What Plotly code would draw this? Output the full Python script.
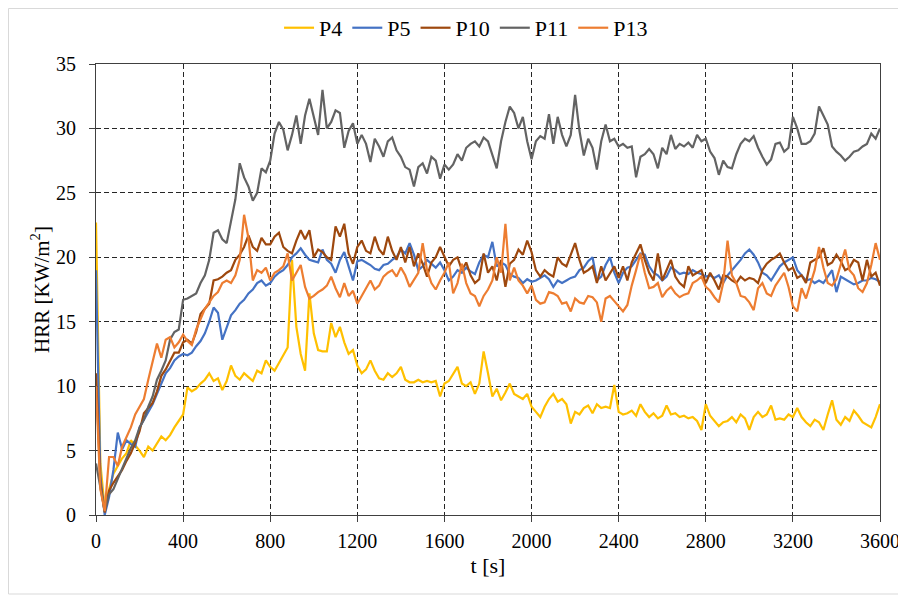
import plotly.graph_objects as go

t = list(range(0, 3601, 20))

p4 = [22.7, 4.0, 0.5, 2.0, 3.2, 3.8, 4.4, 4.8, 5.8, 5.4, 5.0, 4.5, 5.3, 5.0, 5.5, 6.1, 5.8, 6.2, 6.8, 7.3, 7.8,
      9.9, 9.6, 9.8, 10.2, 10.5, 11.0, 10.4, 10.6, 9.7, 10.4, 11.6, 10.8, 10.5, 11.0, 10.7, 10.4, 11.2, 11.0, 12.0, 11.5,
      11.2, 11.8, 12.3, 13.0, 19.8, 14.6, 12.5, 11.2, 17.2, 14.1, 12.8, 12.7, 12.7, 14.9, 13.8, 14.6, 13.4, 12.5, 12.8, 11.6,
      11.0, 11.3, 12.0, 11.2, 10.6, 10.5, 11.0, 10.7, 11.0, 11.5, 10.5, 10.3, 10.3, 10.5, 10.3, 10.4, 10.3, 10.4, 9.2, 10.2,
      10.4, 11.0, 11.5, 10.2, 10.0, 10.3, 9.4, 10.2, 12.7, 11.0, 9.2, 9.8, 8.9, 9.5, 10.2, 9.4, 9.2, 9.0, 9.4, 8.4,
      8.0, 7.6, 8.4, 9.0, 9.4, 8.8, 9.0, 8.6, 7.1, 8.0, 7.8, 8.3, 8.5, 7.9, 8.6, 8.3, 8.4, 8.3, 10.1, 8.0,
      7.8, 7.9, 8.1, 7.7, 8.6, 8.0, 7.6, 7.9, 7.5, 7.7, 8.5, 7.8, 7.9, 7.6, 7.7, 7.5, 7.6, 7.3, 6.6, 8.6,
      7.7, 7.3, 6.9, 7.2, 7.3, 7.6, 7.2, 7.8, 7.5, 6.6, 7.6, 8.0, 7.6, 7.8, 8.5, 7.4, 7.5, 7.4, 7.8, 7.6,
      8.3, 7.6, 7.2, 6.9, 7.4, 7.2, 6.6, 7.8, 8.9, 7.4, 7.0, 7.6, 7.3, 8.1, 7.7, 7.2, 7.0, 6.8, 7.6, 8.6]

p5 = [19.0, 3.0, 0.0, 1.4, 3.5, 6.4, 5.1, 5.8, 5.5, 5.3, 6.8, 7.4, 7.9, 8.6, 9.4, 10.2, 11.0, 11.4, 12.0, 12.3, 12.5,
      12.4, 12.6, 13.1, 13.5, 14.1, 15.0, 16.1, 15.7, 13.6, 14.5, 15.5, 15.9, 16.4, 16.7, 17.2, 17.5, 18.0, 18.2, 17.8, 18.0,
      18.5, 18.8, 19.0, 19.4, 20.0, 20.3, 20.7, 20.2, 19.8, 19.7, 19.6, 20.6, 19.8, 19.5, 18.8, 19.8, 20.4, 19.3, 18.2, 19.7,
      19.8, 19.6, 19.4, 19.1, 19.0, 19.4, 19.5, 19.8, 20.0, 20.6, 20.3, 21.1, 20.2, 19.0, 19.3, 19.8, 19.5, 19.2, 19.6, 19.0,
      18.2, 18.5, 19.0, 18.8, 19.2, 18.9, 18.7, 19.6, 20.2, 20.0, 21.2, 19.3, 19.6, 19.4, 18.7, 18.5, 18.4, 18.0, 18.3, 18.1,
      18.2, 18.4, 18.6, 18.3, 17.7, 18.2, 18.0, 18.2, 18.4, 18.5, 19.0, 19.2, 19.7, 20.0, 18.2, 18.5, 19.4, 20.0, 18.8, 18.0,
      18.8, 19.2, 19.3, 19.8, 20.3, 20.2, 19.3, 18.8, 18.6, 18.2, 18.5, 19.2, 19.0, 18.7, 18.8, 18.7, 19.0, 18.8, 18.7, 18.5,
      18.6, 18.4, 18.6, 18.0, 18.6, 19.0, 19.4, 19.8, 20.3, 20.6, 20.2, 19.6, 18.8, 18.6, 18.2, 18.8, 19.3, 19.6, 19.8, 20.0,
      19.0, 18.6, 18.2, 18.3, 18.0, 18.2, 18.0, 18.5, 19.0, 17.3, 18.5, 18.3, 18.1, 17.9, 18.0, 18.2, 18.2, 18.4, 18.3, 18.1]

p10 = [11.0, 2.5, 0.2, 1.9, 2.5, 3.0, 3.5, 4.2, 4.8, 5.6, 6.5, 7.9, 8.3, 8.7, 9.6, 10.8, 11.3, 12.0, 12.6, 12.6, 13.4,
       13.6, 13.3, 14.2, 15.6, 16.0, 16.4, 18.2, 18.3, 18.5, 18.8, 19.0, 19.8, 20.2, 20.8, 21.7, 20.8, 20.5, 21.5, 21.0, 21.0,
       21.6, 21.9, 20.8, 20.5, 20.3, 21.3, 22.1, 21.4, 22.1, 20.0, 20.6, 20.4, 20.0, 19.8, 22.4, 21.6, 22.6, 20.3, 19.5, 20.8,
       21.3, 20.5, 20.3, 21.6, 20.6, 20.2, 21.6, 20.5, 19.8, 20.8, 19.6, 20.8, 19.3, 20.3, 19.5, 18.5, 19.6, 20.0, 20.8, 20.0,
       19.3, 19.8, 20.0, 19.0, 19.6, 18.6, 18.0, 18.3, 20.3, 18.8, 19.3, 18.2, 19.8, 17.7, 19.5, 19.8, 20.6, 20.2, 21.3, 20.4,
       19.0, 18.5, 19.0, 18.7, 18.5, 20.0, 19.5, 19.3, 20.2, 21.1, 19.8, 18.8, 19.0, 19.3, 18.0, 19.3, 18.2, 18.8, 19.3, 18.4,
       19.3, 18.2, 19.6, 20.3, 21.0, 19.8, 18.8, 18.2, 20.3, 18.2, 19.0, 19.8, 18.5, 18.0, 17.7, 19.3, 18.6, 18.8, 19.0, 18.0,
       18.8, 18.2, 17.5, 18.6, 18.5, 18.2, 18.0, 18.5, 18.2, 18.4, 18.3, 18.0, 19.0, 19.5, 19.8, 20.0, 20.3, 19.6, 19.0, 19.2,
       18.4, 18.6, 18.0, 19.6, 19.8, 20.0, 20.7, 19.4, 19.6, 20.2, 19.7, 19.0, 19.2, 19.8, 19.6, 18.2, 19.8, 18.5, 18.8, 17.8]

p11 = [4.0, 2.0, 0.3, 1.6, 2.0, 2.8, 3.6, 4.5, 5.2, 5.8, 6.8, 7.4, 8.4, 9.2, 10.5, 11.2, 12.0, 13.6, 14.2, 14.4, 16.7,
       16.8, 17.0, 17.2, 18.0, 18.6, 19.8, 21.9, 22.1, 21.4, 21.1, 22.9, 24.5, 27.3, 26.2, 25.5, 24.4, 25.0, 26.9, 26.6, 27.5,
       29.6, 30.5, 29.9, 28.3, 29.5, 31.0, 28.8, 31.0, 32.3, 30.8, 29.5, 33.0, 30.0, 30.5, 31.4, 31.2, 28.5, 29.8, 30.4, 28.8,
       29.5, 28.8, 27.4, 29.2, 28.6, 27.8, 29.0, 29.3, 28.3, 27.8, 27.0, 26.8, 25.5, 27.0, 27.3, 26.5, 27.8, 27.5, 26.1, 27.2,
       26.8, 27.2, 28.0, 27.5, 28.5, 28.8, 29.0, 28.6, 29.3, 29.0, 28.0, 26.9, 29.0, 30.5, 31.7, 31.2, 30.0, 30.9, 29.0, 27.6,
       29.0, 29.4, 29.2, 31.1, 28.8, 30.9, 29.5, 28.6, 29.5, 32.6, 29.8, 27.9, 29.2, 28.5, 26.8, 29.0, 30.3, 29.0, 29.2, 28.6,
       28.8, 28.5, 28.6, 26.2, 27.8, 28.0, 28.4, 28.0, 26.9, 28.5, 28.0, 29.5, 28.4, 28.8, 28.6, 28.9, 28.5, 29.5, 29.0, 29.2,
       28.2, 27.7, 26.4, 27.5, 27.0, 26.9, 28.0, 28.8, 29.2, 29.0, 29.4, 28.5, 27.8, 27.2, 27.6, 28.8, 28.9, 28.2, 28.5, 30.9,
       30.0, 28.8, 28.8, 29.0, 29.6, 31.7, 31.0, 30.3, 28.6, 28.2, 27.9, 27.5, 27.8, 28.2, 28.3, 28.6, 28.8, 29.6, 29.2, 30.0]

p13 = [10.0, 2.0, 0.3, 4.5, 4.5, 3.8, 5.3, 6.0, 6.8, 7.8, 8.4, 9.0, 10.5, 12.0, 13.3, 12.2, 13.6, 13.8, 13.0, 13.4, 14.0,
       13.5, 13.2, 14.4, 15.2, 16.0, 16.5, 17.0, 17.3, 18.0, 18.2, 18.0, 18.6, 19.8, 23.3, 21.5, 18.2, 19.0, 18.8, 19.2, 18.2,
       18.8, 19.0, 19.3, 20.3, 18.2, 18.8, 19.4, 17.7, 16.8, 17.0, 17.3, 17.5, 17.8, 18.5, 17.6, 16.9, 18.0, 17.0, 17.4, 16.4,
       17.0, 17.6, 18.2, 17.5, 17.8, 18.5, 18.8, 19.0, 18.5, 19.2, 18.6, 17.7, 18.2, 18.8, 21.1, 19.0, 18.0, 17.5, 18.2, 18.8,
       19.6, 17.2, 18.0, 19.5, 18.0, 17.2, 17.0, 16.2, 17.0, 17.5, 18.2, 20.0, 18.8, 22.6, 18.2, 19.2, 18.2, 17.8, 17.2, 17.8,
       16.7, 16.4, 16.5, 17.3, 17.2, 17.0, 16.4, 16.5, 15.8, 16.8, 16.5, 16.4, 17.0, 16.9, 16.5, 15.0, 16.8, 17.0, 16.6, 16.2,
       15.8, 16.3, 17.8, 19.0, 20.3, 18.8, 17.6, 17.7, 18.0, 16.9, 17.4, 17.7, 17.2, 16.9, 17.1, 17.2, 18.0, 18.2, 18.5, 17.7,
       17.4, 16.9, 16.5, 18.0, 21.3, 18.6, 18.0, 17.0, 16.9, 16.5, 15.9, 17.6, 18.0, 17.2, 17.0, 17.8, 18.3, 18.8, 17.7, 16.2,
       15.8, 17.6, 16.8, 18.0, 19.0, 20.8, 19.2, 18.0, 17.8, 18.3, 19.5, 20.6, 19.0, 18.6, 17.6, 17.3, 18.0, 19.4, 21.1, 19.8]

names = ["P4", "P5", "P10", "P11", "P13"]
series = [p4, p5, p10, p11, p13]
colors = ["#FFC000", "#4472C4", "#9E480E", "#636363", "#ED7D31"]

x_ticks = [0, 400, 800, 1200, 1600, 2000, 2400, 2800, 3200, 3600]
y_ticks = [0, 5, 10, 15, 20, 25, 30, 35]

FONT = "Liberation Serif, DejaVu Serif, serif"

fig = go.Figure()
for name, ys, c in zip(names, series, colors):
    fig.add_trace(go.Scatter(x=t, y=ys, mode="lines", name=name,
                             line=dict(color=c, width=2.2)))

axis_common = dict(
    showline=True, linecolor="#404040", linewidth=1.2, mirror=True,
    showgrid=True, gridcolor="#262626", gridwidth=1, griddash="5px,3px",
    ticks="outside", ticklen=6, tickcolor="#404040", tickwidth=1,
    zeroline=False, automargin=False,
    tickfont=dict(family=FONT, size=20, color="#000000"),
)

fig.update_xaxes(range=[0, 3600], tickvals=x_ticks, ticktext=[str(v) for v in x_ticks],
                 title=dict(text="t [s]", font=dict(family=FONT, size=22, color="#000000"), standoff=6),
                 ticklabelstandoff=2, **axis_common)
fig.update_yaxes(range=[0, 35], tickvals=y_ticks, ticktext=[str(v) for v in y_ticks],
                 title=dict(text="HRR [KW/m<sup>2</sup>]", font=dict(family=FONT, size=21, color="#000000"), standoff=0),
                 ticklabelstandoff=9, **axis_common)

# light frame around the whole chart (page offset of 8 px compensated)
fig.add_shape(type="rect", xref="paper", yref="paper",
              x0=(0.5 - 88) / 784, x1=(897 - 88) / 784,
              y0=(507 - 586) / 451, y1=(507 - 0.5) / 451,
              line=dict(color="#d9d9d9", width=1), fillcolor="rgba(0,0,0,0)", layer="below")

fig.update_layout(
    width=906, height=595,
    margin=dict(l=88, r=34, t=56, b=88, autoexpand=False),
    paper_bgcolor="white", plot_bgcolor="white",
    font=dict(family=FONT, size=20, color="#000000"),
    showlegend=True,
    legend=dict(orientation="h", x=0.472, xanchor="center", y=1.08, yanchor="middle",
                font=dict(family=FONT, size=22, color="#000000"),
                itemwidth=30, tracegroupgap=0, bgcolor="rgba(0,0,0,0)"),
)

fig.write_html("out.html")
